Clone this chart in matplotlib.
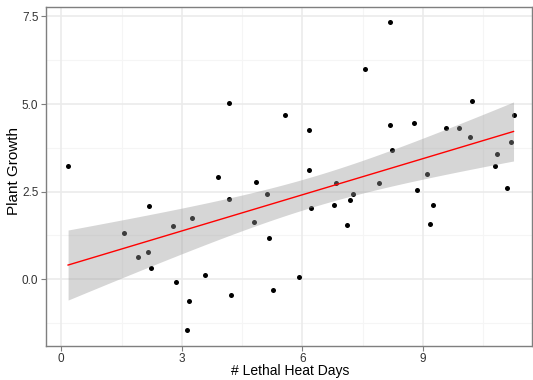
import numpy as np
import matplotlib
matplotlib.use("Agg")
import matplotlib.pyplot as plt

plt.rcParams['font.family'] = ['Liberation Sans', 'DejaVu Sans']

heat_days = [0.17, 1.57, 1.91, 2.18, 2.17, 2.23, 2.79, 2.85, 3.26, 3.18,
             3.12, 3.57, 3.91, 4.18, 4.18, 4.23, 4.79, 4.85, 5.11, 5.17,
             5.26, 5.57, 5.91, 6.18, 6.18, 6.22, 6.80, 6.85, 7.11, 7.18,
             7.26, 7.56, 8.18, 8.18, 8.23, 7.90, 8.79, 8.85, 9.11, 9.18,
             9.26, 9.57, 9.91, 10.18, 10.22, 10.85, 10.80, 11.11, 11.19, 11.26]
growth = [3.23, 1.33, 0.64, 2.08, 0.77, 0.32, 1.53, -0.09, 1.74, -0.63,
          -1.46, 0.11, 2.91, 2.28, 5.03, -0.45, 1.63, 2.78, 2.42, 1.18,
          -0.30, 4.70, 0.05, 4.27, 3.12, 2.04, 2.11, 2.75, 1.56, 2.25,
          2.44, 6.00, 7.33, 4.41, 3.69, 2.75, 4.45, 2.54, 3.01, 1.58,
          2.11, 4.31, 4.31, 4.06, 5.09, 3.57, 3.23, 2.60, 3.91, 4.69]
x_ticks = [0, 3, 6, 9]
y_ticks = [0.0, 2.5, 5.0, 7.5]
y_ticklabels = ["0.0", "2.5", "5.0", "7.5"]

x = np.array(heat_days)
y = np.array(growth)

# linear fit with 95% confidence band
n = len(x)
b1, b0 = np.polyfit(x, y, 1)
resid = y - (b0 + b1 * x)
s = np.sqrt(np.sum(resid ** 2) / (n - 2))
t_crit = 2.0106
xs = np.linspace(x.min(), x.max(), 100)
ys = b0 + b1 * xs
se = s * np.sqrt(1.0 / n + (xs - x.mean()) ** 2 / np.sum((x - x.mean()) ** 2))

W, H = 533, 380
fig = plt.figure(figsize=(W / 100, H / 100), dpi=100)
ax = fig.add_axes([46 / W, (H - 345.7) / H, (532 - 46) / W, (345.7 - 7) / H])

grid_major = "#ebebeb"
grid_minor = "#f5f5f5"
for v in [1.5, 4.5, 7.5, 10.5]:
    ax.axvline(v, color=grid_minor, lw=0.8, zorder=0)
for v in [-1.25, 1.25, 3.75, 6.25]:
    ax.axhline(v, color=grid_minor, lw=0.8, zorder=0)
for v in x_ticks:
    ax.axvline(v, color=grid_major, lw=1.2, zorder=0)
for v in y_ticks:
    ax.axhline(v, color=grid_major, lw=1.2, zorder=0)

ax.scatter(x, y, s=13, color="black", zorder=2, linewidths=0)
ax.fill_between(xs, ys - t_crit * se, ys + t_crit * se, color="#999999", alpha=0.4,
                linewidth=0, zorder=3)
ax.plot(xs, ys, color="red", lw=1.0, zorder=4)

ax.set_xlim(-0.38, 11.72)
ax.set_ylim(-1.9, 7.77)
ax.set_xticks(x_ticks)
ax.set_yticks(y_ticks)
ax.set_yticklabels(y_ticklabels)
ax.tick_params(colors="#7f7f7f", labelcolor="#333333", labelsize=8.5, length=3.5,
               width=0.8, pad=2)
for sp in ax.spines.values():
    sp.set_color("#7f7f7f")
    sp.set_linewidth(1.0)

fig.text(290 / W, 1 - 371 / H, "# Lethal Heat Days", fontsize=10, ha="center", va="center")
fig.text(14 / W, 1 - 171 / H, "Plant Growth", fontsize=11, ha="center", va="center",
         rotation=90)

fig.savefig("out.png", dpi=100)
